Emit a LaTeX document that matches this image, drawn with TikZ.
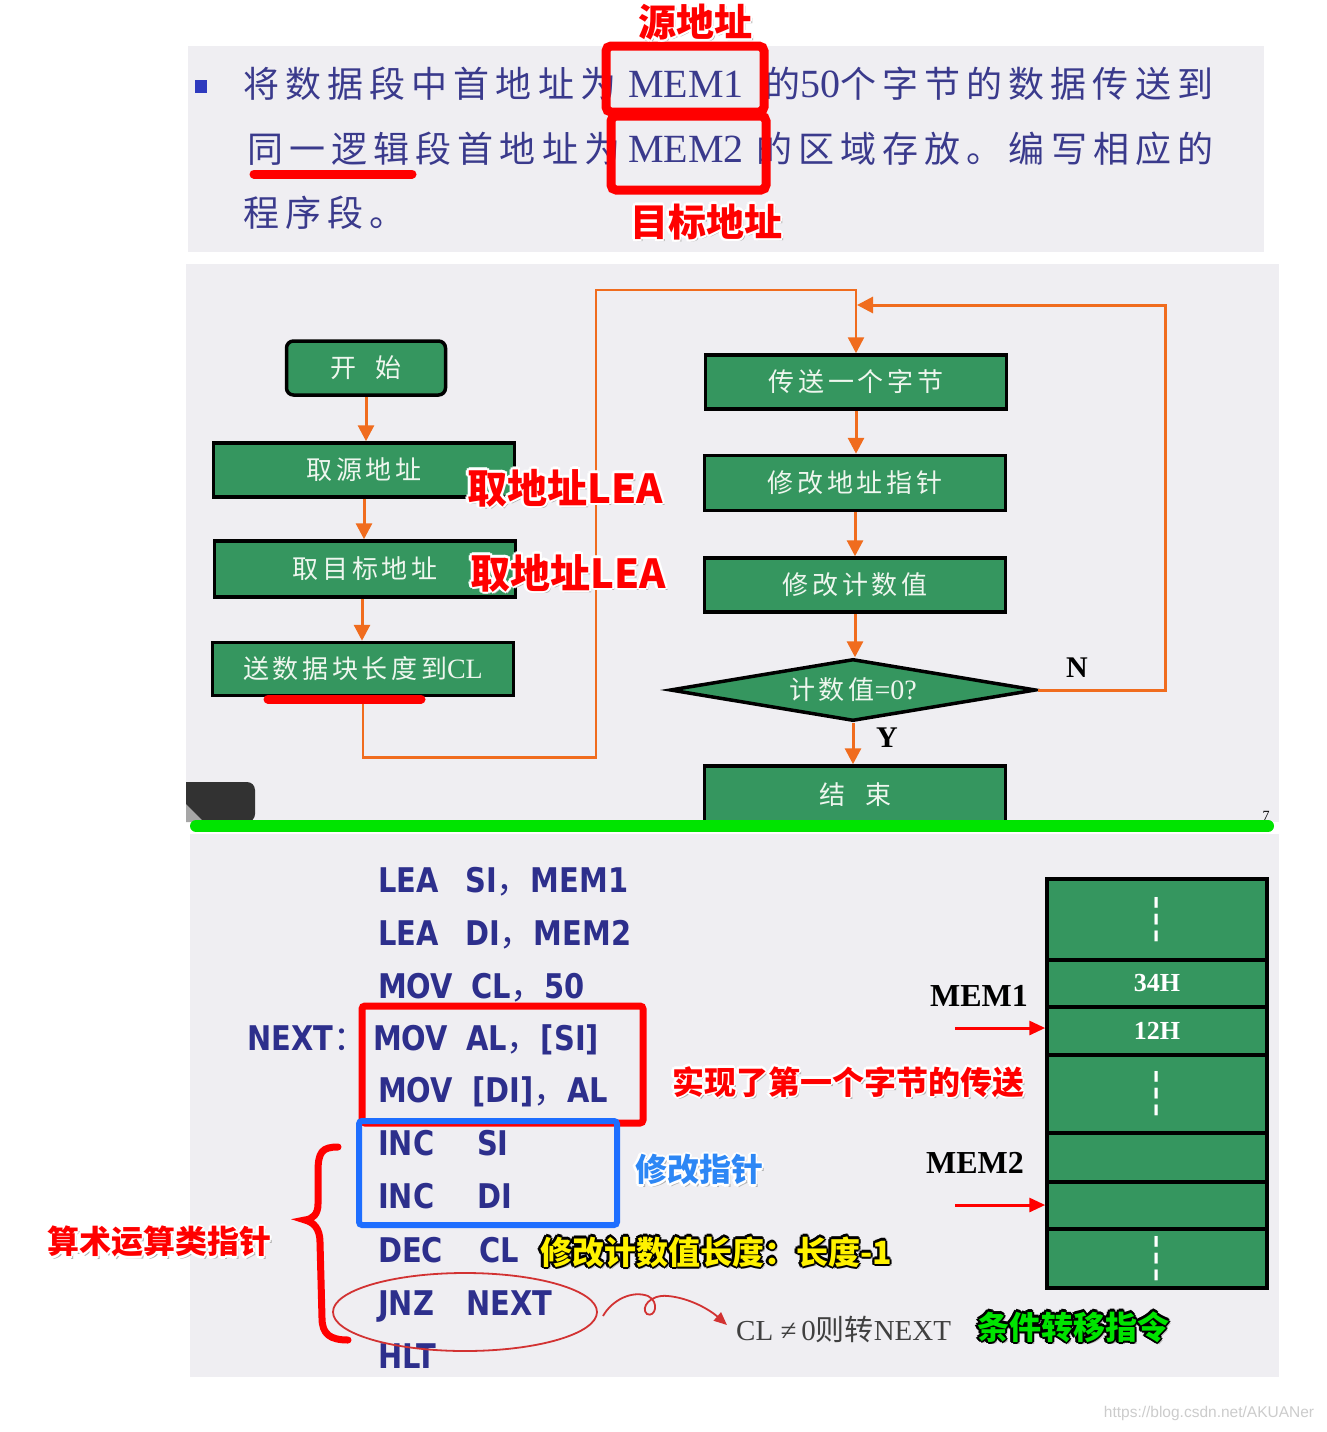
\documentclass[tikz,border=0pt]{standalone}
\usepackage{fontspec}
\usepackage{graphicx}
\usetikzlibrary{shapes.geometric,arrows.meta}
\setmainfont{Liberation Serif}
\newfontfamily\cjk{Noto Sans CJK SC}
\newfontfamily\cjksp[LetterSpace=17]{Noto Sans CJK SC}
\newfontfamily\cjkfc[LetterSpace=14]{Noto Sans CJK SC}
\newfontfamily\code[FakeStretch=0.85]{DejaVu Sans Bold}
\newfontfamily\djv{DejaVu Sans}
\newfontfamily\wm{Liberation Sans}
\definecolor{panelc}{RGB}{239,238,242}
\definecolor{boxg}{RGB}{53,150,95}
\definecolor{orangec}{RGB}{240,108,30}
\definecolor{navy}{RGB}{58,58,140}
\definecolor{codeblue}{RGB}{45,47,140}
\definecolor{annred}{RGB}{255,0,0}
\definecolor{annblue}{RGB}{45,135,245}
\definecolor{boxblue}{RGB}{30,110,255}
\definecolor{brightgreen}{RGB}{0,228,0}
\definecolor{darktab}{RGB}{50,50,50}
\definecolor{ellred}{RGB}{210,50,50}
\definecolor{bullet}{RGB}{46,58,190}
\newcommand\halo[4]{\hbox{%
  \rlap{\kern2.5pt\raise-2.5pt\hbox{\color{black!30}#4}}%
  \foreach \a in {0,45,...,315}{\pgfmathsetlengthmacro\hx{#3*cos(\a)}\pgfmathsetlengthmacro\hy{#3*sin(\a)}\rlap{\kern\hx\raise\hy\hbox{\color{#1}#4}}}%
  \hbox{\color{#2}#4}}}
\newcommand\cc{{\cjk ，}}
\newcommand\vd{\scalebox{0.7}[2.2]{\djv\bfseries ⋮}}
\begin{document}
\begin{tikzpicture}[x=1pt,y=-1pt,
  tt/.style={inner sep=0, anchor=base west, text=navy, font=\cjksp\fontsize{36}{40}\selectfont},
  ttm/.style={inner sep=0, anchor=base west, text=navy, font=\rmfamily\fontsize{40}{44}\selectfont},
  fbox/.style={draw=black, line width=3.5, fill=boxg, text={rgb,255:red,238;green,246;blue,238}, font=\cjkfc\fontsize{26}{30}\selectfont, inner sep=0, minimum width=301, minimum height=54},
  oline/.style={draw=orangec, line width=3},
  oarrow/.style={oline, -{Triangle[width=16pt,length=16pt]}},
  ann/.style={inner sep=0, font=\cjk\bfseries\fontsize{#1}{#1}\selectfont},
  codeln/.style={anchor=base west, inner sep=0, text=codeblue, font=\code\fontsize{34}{38}\selectfont},
  mcell/.style={draw=black, line width=3.5, fill=boxg, minimum width=220, inner sep=0, text=white, font=\bfseries\fontsize{26}{28}\selectfont, anchor=north},
  redarrow/.style={draw=red, line width=3, -{Triangle[width=14pt,length=16pt]}},
  lbl/.style={inner sep=0, font=\bfseries\fontsize{30}{32}\selectfont}
]
\useasboundingbox (0,0) rectangle (1327,1432);
\fill[white] (0,0) rectangle (1327,1432);
% ---------- top panel ----------
\fill[panelc] (188,46) rectangle (1264,252);
\fill[bullet] (195,80) rectangle (207,93);
\node[tt] (l1a) at (243,97) {将数据段中首地址为};
\node[ttm] (l1b) at (628,97) {MEM1};
\node[tt] (l1c) at (764,97) {的{\rmfamily\fontsize{40}{44}\selectfont 50}个字节的数据传送到};
\node[tt] (l2a) at (247,162) {同一逻辑段首地址为};
\node[ttm] (l2b) at (628,162) {MEM2};
\node[tt] (l2c) at (756,162) {的区域存放。编写相应的};
\node[tt] (l3a) at (243,226) {程序段。};
\draw[annred, line width=9, rounded corners=5] (606,46) rectangle (764,112);
\draw[annred, line width=9, rounded corners=5] (611,116) rectangle (766,190);
\draw[annred, line width=9, line cap=round] (254,174) -- (412,174);
\node[ann=38] (srcaddr) at (695,22) {\halo{white}{annred}{2.5pt}{源地址}};
\node[ann=38] (dstaddr) at (706,222) {\halo{white}{annred}{2.5pt}{目标地址}};
% ---------- flowchart panel ----------
\fill[panelc] (186,264) rectangle (1279,822);
\node[fbox, minimum width=159, rounded corners=7] (start) at (366,368) {开\hspace{20pt}始};
\node[fbox] (src) at (364,470) {取源地址};
\node[fbox, minimum height=56] (dst) at (365,569) {取目标地址};
\node[fbox, minimum height=53] (cl) at (363,669) {送数据块长度到{\rmfamily\fontsize{28}{30}\selectfont CL}};
\node[fbox] (send) at (856,382) {传送一个字节};
\node[fbox, minimum height=55] (modp) at (855,483) {修改地址指针};
\node[fbox] (cnt) at (855,585) {修改计数值};
\node[fbox, diamond, aspect=6, minimum width=366, minimum height=62] (dia) at (853,690) {计数值{\rmfamily\fontsize{28}{30}\selectfont =0?}};
\node[fbox, minimum height=58] (fin) at (855,795) {结\hspace{20pt}束};
\coordinate (loopA) at (596,290);
\coordinate (nbend) at (1165,305);
\coordinate (join) at (857,305);
\draw[oarrow] (start.south) -- (start.south |- src.north);
\draw[oarrow] (src.south) -- (src.south |- dst.north);
\draw[oarrow] ([xshift=-3pt]dst.south) -- ([xshift=-3pt]dst.south |- cl.north);
\draw[oarrow, line width=2.5] (cl.south) -- ++(0,60) -| (loopA) -| (send.north);
\draw[oarrow] (send.south) -- (send.south |- modp.north);
\draw[oarrow] (modp.south) -- (modp.south |- cnt.north);
\draw[oarrow] (cnt.south) -- (cnt.south |- dia.north);
\draw[oarrow] (dia.east) -| (nbend) -- (join);
\draw[oarrow] (dia.south) -- (dia.south |- fin.north);
\node[lbl] (nlab) at (1077,668) {N};
\node[lbl] (ylab) at (887,738) {Y};
\draw[annred, line width=9, line cap=round] (268,699) -- (421,699);
\node[ann=40] (lea1) at (565,488) {\halo{white}{annred}{2.5pt}{取地址LEA}};
\node[ann=40] (lea2) at (568,573) {\halo{white}{annred}{2.5pt}{取地址LEA}};
\fill[darktab, rounded corners=8] (186,822) -- (186,782) -- (255,782) -- (255,822) -- cycle;
\fill[darktab] (186,782) rectangle (200,822);
\fill[gray!70] (186,804) -- (204,822) -- (186,822) -- cycle;
\node[inner sep=0, font=\fontsize{14}{14}\selectfont] (pnum) at (1266,816) {7};
\draw[brightgreen, line width=12, line cap=round] (196,826) -- (1268,826);
% ---------- code panel ----------
\fill[panelc] (190,834) rectangle (1279,1377);
\node[codeln] (c1) at (378,892) {\makebox[87pt][l]{LEA}SI\cc MEM1};
\node[codeln] (c2) at (378,945) {\makebox[87pt][l]{LEA}DI\cc MEM2};
\node[codeln] (c3) at (378,998) {\makebox[93pt][l]{MOV}CL\cc 50};
\node[codeln] (cnext) at (247,1050) {NEXT{\cjk ：}};
\node[codeln] (c4) at (373,1050) {\makebox[93pt][l]{MOV}AL\cc [SI]};
\node[codeln] (c5) at (378,1102) {\makebox[94pt][l]{MOV}[DI]\cc AL};
\node[codeln] (c6) at (378,1155) {\makebox[99pt][l]{INC}SI};
\node[codeln] (c7) at (378,1208) {\makebox[99pt][l]{INC}DI};
\node[codeln] (c8) at (378,1262) {\makebox[101pt][l]{DEC}CL};
\node[codeln] (c9) at (378,1315) {\makebox[88pt][l]{JNZ}NEXT};
\node[codeln] (c10) at (378,1368) {HLT};
\draw[annred, line width=7, rounded corners=3] (362,1006) rectangle (643,1123);
\draw[boxblue, line width=6, rounded corners=3] (359,1121) rectangle (617,1225);
\node[ann=32] (t1) at (848,1082) {\halo{white}{annred}{2.2pt}{实现了第一个字节的传送}};
\node[ann=32] (t2) at (699,1170) {\halo{white}{annblue}{2.2pt}{修改指针}};
\node[ann=32] (t3) at (716,1252) {\halo{black}{yellow}{2.2pt}{修改计数值长度：长度-1}};
\node[ann=32] (t4) at (159,1242) {\halo{white}{annred}{2.2pt}{算术运算类指针}};
\node[ann=32] (t5) at (1073,1327) {\halo{black}{brightgreen}{2.2pt}{条件转移指令}};
\draw[annred, line width=7, line cap=round]
  (338,1147) .. controls (322,1147) and (318,1152) .. (318,1172) -- (318,1204)
  .. controls (318,1214) and (313,1219) .. (305,1220)
  .. controls (313,1222) and (320,1228) .. (320,1242) -- (322,1318)
  .. controls (322,1334) and (330,1340) .. (348,1340);
\node[draw=ellred, line width=1.8, ellipse, minimum width=264, minimum height=78, inner sep=0] (jnz) at (465,1312) {};
\node[inner sep=0, anchor=base west, text=black!75, font=\fontsize{29}{30}\selectfont] (cltxt) at (736,1340) {CL ≠\,0{\cjk 则转}NEXT};
\coordinate (sqend) at (727,1325);
\draw[ellred, line width=1.8, -{Triangle[width=11pt,length=13pt]}]
  (603,1316) .. controls (612,1300) and (632,1290) .. (648,1296)
  .. controls (660,1302) and (655,1318) .. (647,1314)
  .. controls (640,1308) and (650,1294) .. (668,1296)
  .. controls (690,1298) and (710,1310) .. (sqend);
% memory
\node[mcell, minimum height=81] (m1) at (1157,877) {\vd};
\node[mcell, minimum height=47] (m2) at (1157,958) {34H};
\node[mcell, minimum height=48] (m3) at (1157,1005) {12H};
\node[mcell, minimum height=78] (m4) at (1157,1053) {\vd};
\node[mcell, minimum height=49] (m5) at (1157,1131) {};
\node[mcell, minimum height=47] (m6) at (1157,1180) {};
\node[mcell, minimum height=59] (m7) at (1157,1227) {\vd};
\node[lbl, font=\bfseries\fontsize{32}{34}\selectfont] (mem1) at (979,996) {MEM1};
\node[lbl, font=\bfseries\fontsize{32}{34}\selectfont] (mem2) at (975,1163) {MEM2};
\coordinate (a1) at (955,1028);
\coordinate (a2) at (955,1205);
\draw[redarrow] (a1) -- (a1 -| m3.west);
\draw[redarrow] (a2) -- (a2 -| m6.west);
\node[inner sep=0, text=black!20, font=\wm\fontsize{15.5}{16}\selectfont] (wmark) at (1209,1413) {https://blog.csdn.net/AKUANer};
\end{tikzpicture}
\end{document}
